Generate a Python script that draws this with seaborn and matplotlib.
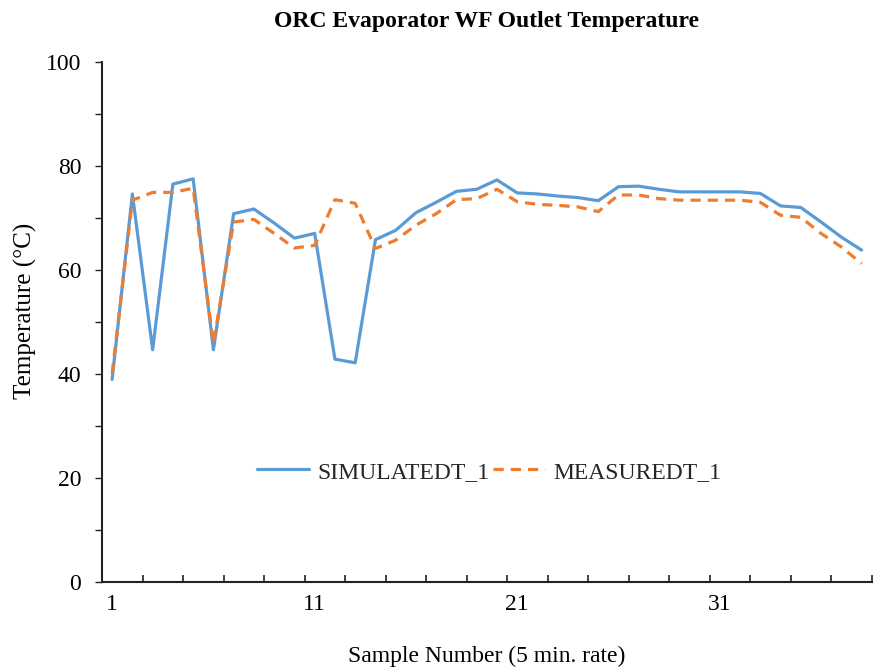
import matplotlib
matplotlib.use("Agg")
import matplotlib.pyplot as plt
import seaborn as sns
import pandas as pd
import numpy as np
from matplotlib.ticker import FixedLocator

sample = list(range(1, 39))
simulated = [38.9, 74.6, 44.6, 76.5, 77.5, 44.6, 70.8, 71.7, 69.0, 66.1,
             67.0, 42.8, 42.1, 65.8, 67.6, 71.0, 73.0, 75.1, 75.5, 77.3,
             74.8, 74.6, 74.2, 73.9, 73.3, 76.0, 76.1, 75.5, 75.0, 75.0,
             75.0, 75.0, 74.7, 72.3, 72.0, 69.2, 66.3, 63.8]
measured = [40.0, 73.4, 74.9, 74.9, 75.7, 45.8, 69.2, 69.7, 67.0, 64.2,
            64.7, 73.5, 72.8, 64.1, 65.7, 68.6, 70.8, 73.5, 73.7, 75.5,
            73.1, 72.6, 72.4, 72.1, 71.2, 74.4, 74.4, 73.7, 73.4, 73.4,
            73.4, 73.4, 73.0, 70.5, 70.1, 67.0, 64.4, 61.2]
series_names = ["SIMULATEDT_1", "MEASUREDT_1"]
x_labels = [1, 11, 21, 31]
y_labels = [0, 20, 40, 60, 80, 100]

sns.set_theme(style="white")
plt.rcParams['font.family'] = ['Liberation Serif', 'DejaVu Serif']

fig = plt.figure(figsize=(8.74, 6.69), dpi=100)
ax = fig.add_axes([102/874, (669-581.5)/669, (871.7-102)/874, (581.5-62)/669])

df = pd.DataFrame({"Sample": sample, series_names[0]: simulated, series_names[1]: measured})

sns.lineplot(data=df, x="Sample", y=series_names[0], ax=ax, color="#5B9BD5",
             linewidth=2.3, label=series_names[0])
sns.lineplot(data=df, x="Sample", y=series_names[1], ax=ax, color="#ED7D31",
             linewidth=2.3, label=series_names[1])
ax.lines[1].set_dashes([3.2, 2.2])

ax.set_xlim(0.5, 38.5)
ax.set_ylim(0, 100)

# x axis: labels without ticks, tick marks between categories
ax.set_xticks(x_labels)
ax.set_xticklabels([str(v) for v in x_labels])
ax.xaxis.set_minor_locator(FixedLocator(np.arange(2.5, 39, 2)))
ax.tick_params(axis="x", which="major", length=0, pad=9, labelsize=17, colors="black")
ax.tick_params(axis="x", which="minor", bottom=True, direction="in", length=5, width=1.2, color="#222222")

ax.set_yticks(y_labels)
ax.yaxis.set_minor_locator(FixedLocator(np.arange(10, 100, 20)))
ax.tick_params(axis="y", which="major", left=True, direction="out", length=5, width=1.0,
               color="#222222", pad=10, labelsize=17, labelcolor="black")
ax.tick_params(axis="y", which="minor", left=True, direction="out", length=5, width=1.0, color="#222222")

for s in ["top", "right"]:
    ax.spines[s].set_visible(False)
for s in ["left", "bottom"]:
    ax.spines[s].set_color("#222222")
    ax.spines[s].set_linewidth(1.5)

ax.set_xlabel("Sample Number (5 min. rate)", fontsize=17, labelpad=22, color="black")
ax.set_ylabel("Temperature (\u00b0C)", fontsize=18, color="black")
ax.yaxis.set_label_coords(-0.085, 0.52)
ax.set_title("ORC Evaporator WF Outlet Temperature", fontsize=17, fontweight="bold",
             pad=25, color="black")

leg = ax.legend(loc="center", bbox_to_anchor=(0.503, 0.211), ncol=2, frameon=False,
                fontsize=17, handlelength=2.2, handletextpad=0.34, columnspacing=0.17)

fig.savefig("out.png", dpi=100)
